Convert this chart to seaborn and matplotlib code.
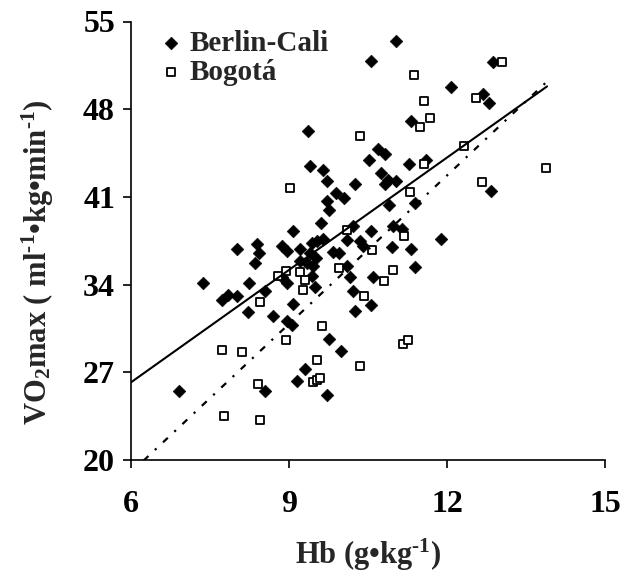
import numpy as np
import pandas as pd
import matplotlib
matplotlib.use("Agg")
import matplotlib.pyplot as plt
import seaborn as sns

# Hemoglobin (g/kg) vs VO2max (ml/kg/min) for two groups
berlin_hb = [11.04, 10.56, 12.87, 12.08, 12.69, 12.80, 11.32, 9.37, 10.69, 10.82,
             10.51, 9.40, 11.28, 11.61, 9.64, 10.75, 10.88, 11.04, 10.82, 9.72,
             10.25, 12.84, 9.89, 10.04, 9.72, 9.75, 10.90, 11.39, 9.61, 9.08,
             10.21, 10.55, 10.98, 11.14, 11.89, 8.01, 8.39, 8.43, 8.35, 8.86,
             8.96, 9.21, 9.43, 9.53, 9.65, 9.40, 9.51, 9.34, 9.21, 9.84,
             9.94, 10.10, 10.35, 10.41, 10.95, 11.32, 9.45, 9.44, 9.49, 8.87,
             8.96, 7.36, 8.24, 8.54, 7.72, 7.85, 8.01, 9.07, 8.23, 8.70,
             8.96, 9.05, 10.11, 10.16, 10.21, 10.25, 10.55, 10.59, 11.39, 9.75,
             9.99, 9.30, 9.15, 8.54, 6.91, 9.72]
berlin_vo2 = [53.44, 51.84, 51.75, 49.79, 49.21, 48.49, 47.09, 46.27, 44.85, 44.45,
              43.93, 43.49, 43.61, 43.93, 43.12, 42.91, 42.37, 42.24, 42.06, 42.24,
              42.02, 41.50, 41.30, 40.90, 40.66, 39.94, 40.32, 40.50, 38.91, 38.24,
              38.66, 38.28, 38.64, 38.42, 37.64, 36.85, 37.28, 36.56, 35.74, 37.10,
              36.70, 36.86, 37.32, 37.45, 37.66, 36.52, 36.14, 35.72, 35.85, 36.58,
              36.52, 37.58, 37.45, 37.05, 37.00, 36.84, 35.50, 34.70, 33.82, 34.62,
              34.14, 34.12, 34.12, 33.49, 32.79, 33.19, 33.11, 32.47, 31.85, 31.47,
              31.11, 30.79, 35.45, 34.58, 33.46, 31.91, 32.35, 34.60, 35.42, 29.65,
              28.71, 27.25, 26.31, 25.47, 25.51, 25.19]

bogota_hb = [13.04, 11.37, 12.55, 11.56, 11.68, 11.49, 10.34, 12.32, 11.57, 13.88,
             9.02, 12.66, 11.30, 10.11, 11.18, 10.57, 10.98, 10.80, 9.94, 8.79,
             8.94, 9.21, 9.31, 9.27, 10.42, 8.45, 9.62, 8.94, 7.72, 8.11,
             9.54, 10.35, 9.46, 9.53, 9.59, 8.41, 7.77, 8.45, 11.17, 11.26]
bogota_vo2 = [51.79, 50.69, 48.93, 48.62, 47.31, 46.55, 45.89, 45.09, 43.65, 43.33,
              41.71, 42.22, 41.40, 38.38, 37.86, 36.78, 35.18, 34.25, 35.34, 34.70,
              35.09, 35.01, 34.34, 33.58, 33.11, 32.65, 30.71, 29.59, 28.79, 28.61,
              27.99, 27.51, 26.26, 26.39, 26.53, 26.07, 23.52, 23.20, 29.27, 29.59]

# Linear trend lines (slope, intercept) and the Hb span they cover
berlin_fit = (2.99, 8.26)
bogota_fit = (3.95, -4.69)
fit_span = [5.5, 13.9]

x_ticks = [6, 9, 12, 15]
y_ticks = [20, 27, 34, 41, 48, 55]

sns.set_theme(style="ticks")
plt.rcParams["font.family"] = ["Liberation Serif", "DejaVu Serif"]
plt.rcParams["font.weight"] = "bold"
plt.rcParams["mathtext.fontset"] = "custom"
plt.rcParams["mathtext.rm"] = "Liberation Serif:bold"
plt.rcParams["mathtext.it"] = "Liberation Serif:bold"
plt.rcParams["mathtext.bf"] = "Liberation Serif:bold"

df = pd.concat([
    pd.DataFrame({"hb": berlin_hb, "vo2": berlin_vo2, "group": "Berlin-Cali"}),
    pd.DataFrame({"hb": bogota_hb, "vo2": bogota_vo2, "group": "Bogotá"}),
], ignore_index=True)

fig = plt.figure(figsize=(6.22, 5.83), dpi=100)
ax = fig.add_axes([131 / 622, 1 - 460 / 583, 474 / 622, 438.5 / 583])

sns.scatterplot(data=df[df.group == "Berlin-Cali"], x="hb", y="vo2", marker="D",
                s=42, color="black", edgecolor="black", linewidth=0.4,
                label="Berlin-Cali", ax=ax, zorder=3)
sns.scatterplot(data=df[df.group == "Bogotá"], x="hb", y="vo2", marker="s",
                s=40, facecolor="white", edgecolor="black", linewidth=1.3,
                label="Bogotá", ax=ax, zorder=4)

xs = np.array(fit_span)
sns.lineplot(x=xs, y=berlin_fit[0] * xs + berlin_fit[1], color="black",
             linewidth=1.5, ax=ax, zorder=5, legend=False)
sns.lineplot(x=xs, y=bogota_fit[0] * xs + bogota_fit[1], color="black",
             linewidth=1.6, dashes=False, ax=ax, zorder=5, legend=False)
ax.lines[-1].set_dashes([3, 4, 1, 4])

ax.set_xlim(6, 15)
ax.set_ylim(20, 55)
ax.set_xticks(x_ticks)
ax.set_yticks(y_ticks)
ax.tick_params(axis="both", direction="out", length=5.5, width=1.2,
               labelsize=23, color="black", labelcolor="black", pad=16)
ax.tick_params(axis="y", pad=6)
for lab in ax.get_xticklabels() + ax.get_yticklabels():
    lab.set_fontweight("bold")
sns.despine(ax=ax)
for side in ("left", "bottom"):
    ax.spines[side].set_linewidth(1.2)
    ax.spines[side].set_color("black")

ax.set_xlabel(r"Hb (g•kg$^{\text{-}1}$)", fontsize=22, fontweight="bold")
ax.xaxis.set_label_coords(0.5, -0.175)
ax.set_ylabel(r"VO$_2$max ( ml$^{\text{-}1}$•kg•min$^{\text{-}1}$)", fontsize=22,
              fontweight="bold")
ax.yaxis.set_label_coords(-0.158, 0.45)

leg = ax.legend(loc="upper left", bbox_to_anchor=(0.022, 1.015), frameon=False,
                fontsize=21, handletextpad=0.15, labelspacing=0.08,
                borderpad=0, handlelength=1.0, markerscale=1.0)
for t in leg.get_texts():
    t.set_fontweight("bold")

fig.savefig("out.png", dpi=100)
